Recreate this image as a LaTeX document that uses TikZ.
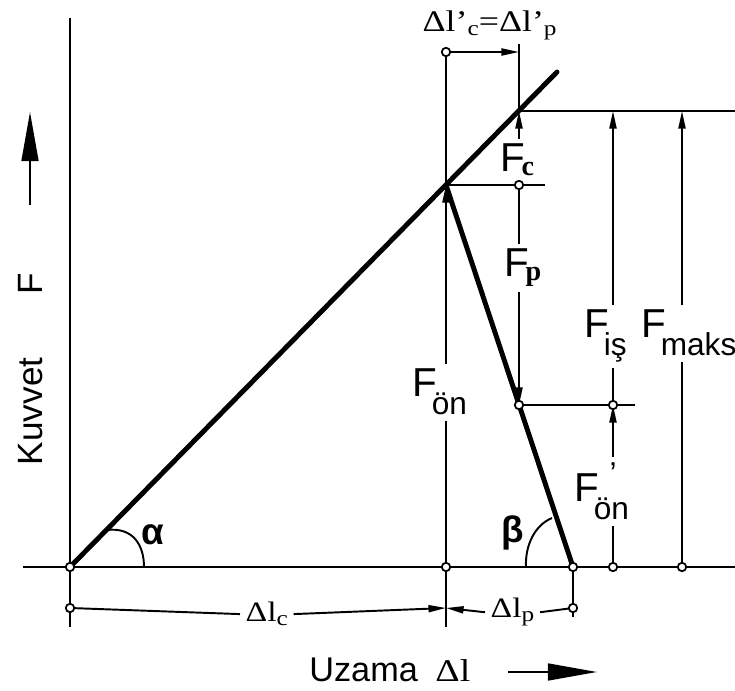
\documentclass[tikz,border=0pt]{standalone}
\usepackage{fontspec}
\setmainfont{Liberation Sans}
\newfontfamily\serifA{Liberation Serif}
\usetikzlibrary{arrows.meta}

\newcommand{\Fsub}[1]{\kern-3pt\raisebox{-10pt}{\fontsize{18}{18}\selectfont #1}}
\newcommand{\Fser}[1]{\kern-2pt\raisebox{-2pt}{\serifA\bfseries\fontsize{16}{16}\selectfont #1}}
\newcommand{\lsub}[1]{\raisebox{-2pt}{\fontsize{12}{12}\selectfont #1}}
\newcommand{\wide}[1]{\scalebox{1.2}[1]{#1}}

\begin{document}
\begin{tikzpicture}[x=0.2mm, y=-0.2mm,
  ln/.style={line width=1.1pt},
  heavy/.style={line width=2.8pt, line cap=round},
  dim/.style={line width=1.1pt, -{Triangle[length=10pt, width=4pt]}},
  bigarrow/.style={line width=1.2pt, -{Triangle[length=28pt, width=9.6pt]}},
  dot/.style={circle, draw, fill=white, line width=1pt, inner sep=0pt, minimum size=4.8pt},
  flab/.style={font=\fontsize{23}{23}\selectfont, inner xsep=0pt, inner ysep=3pt, anchor=base west},
  dlab/.style={font=\serifA\fontsize{16}{16}\selectfont, inner xsep=3pt, inner ysep=2pt, anchor=base west},
  glab/.style={font=\bfseries\fontsize{21}{21}\selectfont, inner sep=0pt, anchor=base west}
]
  \useasboundingbox (0,0) rectangle (735,691);

  % points of the diagram
  \coordinate (o)  at (70,567);
  \coordinate (e)  at (557,72);
  \coordinate (k)  at (446,185);
  \coordinate (b)  at (573,567);
  \coordinate (q)  at (519,405);
  \coordinate (t)  at (446,52);
  \coordinate (t2) at (519,52);
  \coordinate (tk) at (519,44);
  \coordinate (cr) at (519,111);
  \coordinate (c1) at (519,185);
  \coordinate (c2) at (613,405);
  \coordinate (ci) at (613,111);
  \coordinate (cm) at (682,111);
  \coordinate (ba) at (446,567);
  \coordinate (bi) at (613,567);
  \coordinate (bm) at (682,567);
  \coordinate (d0) at (70,608);
  \coordinate (d1) at (446,608);
  \coordinate (d2) at (573,608);

  % labels
  \node[flab] (fon)   at (412,397) {F\Fsub{ön}};
  \node[flab] (fonp)  at (574,502) {F\Fsub{\rlap{\hspace{0.5em}\raisebox{20pt}{'}}ön}};
  \node[flab] (fis)   at (584,338) {F\Fsub{iş}};
  \node[flab] (fmaks) at (641,338) {F\Fsub{maks}};
  \node[flab] (fc)    at (500,172) {F\Fser{c}};
  \node[flab] (fp)    at (504,277) {F\Fser{p}};
  \node[dlab] (dtop)  at (417,32)  {\wide{\fontsize{17}{17}\selectfont Δl’\lsub{c}=Δl’\lsub{p}}};
  \node[dlab] (dlc)   at (240,622) {\wide{Δl\lsub{c}}};
  \node[dlab] (dlp)   at (485,618) {\wide{Δl\lsub{p}}};
  \node[glab] (alpha) at (141,545) {α};
  \node[glab] (beta)  at (501,543) {β};
  \node[rotate=90, anchor=base, font=\fontsize{20}{20}\selectfont] (kuv) at (42,369)
        {Kuvvet\hspace{36pt}F};
  \node[anchor=base west, inner sep=0pt, font=\fontsize{19.5}{19.5}\selectfont] (uza) at (309,682)
        {Uzama\hspace{10pt}{\serifA\fontsize{18}{18}\selectfont\wide{Δl}}};

  % axes
  \draw[ln] (70,18) -- (70,627);
  \draw[ln] (23,567) -- (735,567);
  \draw[bigarrow] (30,205) -- (30,112);
  \draw[bigarrow] (508,672) -- (597,672);

  % characteristic lines
  \draw[heavy] (o) -- (e);
  \draw[heavy] (k) -- (b);
  \draw[ln] (107,530) .. controls (133,527) and (144,545) .. (144,567);
  \draw[ln] (552,518) .. controls (535,525) and (525,545) .. (526,567);

  % F_on and top dimension
  \draw[ln] (t) -- (k);
  \draw[dim] (fon.north -| k) -- (k);
  \draw[ln] (fon.south -| k) -- (446,627);
  \draw[dim] (t) -- (t2);
  \draw[ln] (tk) -- (cr);

  % horizontal extension lines
  \draw[ln] (k) -- (545,185);
  \draw[ln] (cr) -- (735,111);
  \draw[ln] (q) -- (635,405);

  % F_c and F_p
  \draw[dim] (fc.north -| cr) -- (cr);
  \draw[ln] (c1) -- (fp.north -| c1);
  \draw[dim] (fp.south -| c1) -- (q);

  % F_is, F'_on, F_maks
  \draw[dim] (fis.north -| c2) -- (ci);
  \draw[ln] (c2) -- (fis.south -| c2);
  \draw[dim] (fonp.north -| c2) -- (c2);
  \draw[ln] (bi) -- (fonp.south -| c2);
  \draw[dim] (fmaks.north -| bm) -- (cm);
  \draw[ln] (bm) -- (fmaks.south -| bm);

  % bottom dimensions
  \draw[ln] (d0) -- (dlc.west);
  \draw[dim] (dlc.east) -- (d1);
  \draw[dim] (dlp.west) -- (d1);
  \draw[ln] (dlp.east) -- (d2);
  \draw[ln] (b) -- (573,617);

  % circles
  \foreach \p in {o, t, c1, q, c2, ba, b, bi, bm, d0, d2}
    \node[dot] at (\p) {};
\end{tikzpicture}
\end{document}
